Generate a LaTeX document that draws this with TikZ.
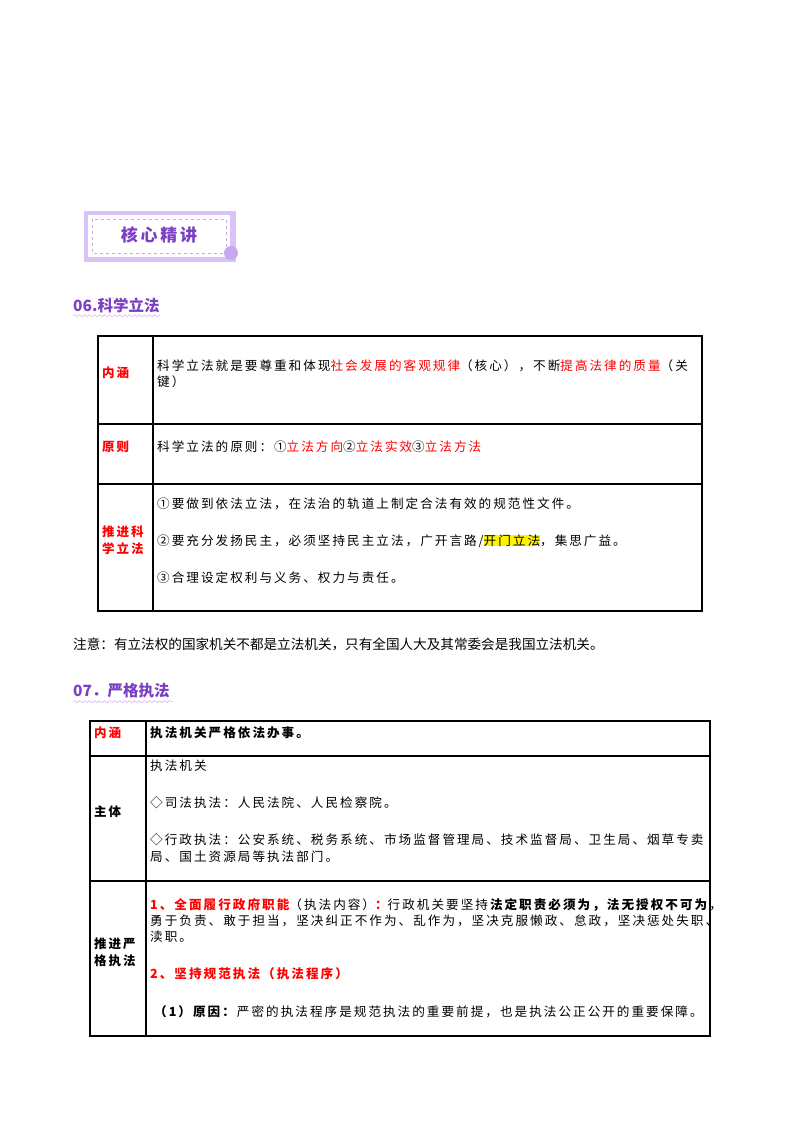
\documentclass[tikz,border=0pt]{standalone}
\usepackage{fontspec}
\setmainfont{Noto Sans CJK SC}
\newfontfamily\spaced[LetterSpace=16]{Noto Sans CJK SC}
\usepackage{xcolor}
\usetikzlibrary{positioning, decorations.pathmorphing}
\definecolor{headpurple}{HTML}{7A3FC4}
\definecolor{lightpurple}{HTML}{C9A8F0}
\tikzset{
	cell/.style={anchor=west, inner sep=0pt, font=\spaced\fontsize{12.6}{14}\selectfont},
	label/.style={anchor=west, inner sep=0pt, font=\spaced\fontsize{12.5}{17}\selectfont\bfseries, align=left},
	heading/.style={anchor=west, inner sep=0pt, font=\fontsize{15.5}{17}\selectfont\bfseries, text=headpurple},
	grid/.style={line width=1.3pt}
}
\newcommand{\hl}[1]{\textcolor{red}{#1}}
\begin{document}
\begin{tikzpicture}[x=1pt, y=-1pt]
	\useasboundingbox (0,0) rectangle (800,1132);
	% badge
	\fill [lightpurple!70] (84,211) rectangle (236,262);
	\fill [white] (88,215) rectangle (230,257);
	\draw [lightpurple, dashed] (92,219) rectangle (226,253);
	\fill [lightpurple] (231,253) circle (7);
	\node [heading, anchor=center, font=\spaced\fontsize{17}{19}\selectfont\bfseries] (Badge) at (159,235) {核心精讲};
	% section 06
	\node [heading] (Sec06) at (73,305) {06.科学立法};
	\draw [lightpurple, decorate, decoration={snake, amplitude=1pt, segment length=5pt}] (Sec06.south west) ++(0,3) -- ++(87,0);
	\draw [grid] (98,336) rectangle (702,611);
	\draw [grid] (153,336) -- (153,611);
	\draw [grid] (98,424) -- (702,424);
	\draw [grid] (98,484) -- (702,484);
	\node [label, text=red] (Neihan1) at (102,373) {内涵};
	\node [label, text=red] (Yuanze) at (102,447) {原则};
	\node [label, text=red] (Tuijin1) at (102,540) {推进科\\学立法};
	\node [cell] (N1a) at (157,366) {科学立法就是要尊重和体现\hl{社会发展的客观规律}（核心），不断\hl{提高法律的质量}（关};
	\node [cell] (N1b) at (157,382) {键）};
	\node [cell] (Y1) at (157,447) {科学立法的原则：①\hl{立法方向}②\hl{立法实效}③\hl{立法方法}};
	\node [cell] (T1) at (157,504) {①要做到依法立法，在法治的轨道上制定合法有效的规范性文件。};
	\node [cell] (T2) at (157,541) {②要充分发扬民主，必须坚持民主立法，广开言路/{\setlength{\fboxsep}{0pt}\colorbox{yellow}{开门立法}}，集思广益。};
	\node [cell] (T3) at (157,578) {③合理设定权利与义务、权力与责任。};
	\node [cell, font=\fontsize{13.6}{15}\selectfont] (Note) at (73,644) {注意：有立法权的国家机关不都是立法机关，只有全国人大及其常委会是我国立法机关。};
	% section 07
	\node [heading] (Sec07) at (73,691) {07．严格执法};
	\draw [lightpurple, decorate, decoration={snake, amplitude=1pt, segment length=5pt}] (Sec07.south west) ++(0,3) -- ++(100,0);
	\draw [grid] (90,721) rectangle (710,1036);
	\draw [grid] (146,721) -- (146,1036);
	\draw [grid] (90,756) -- (710,756);
	\draw [grid] (90,881) -- (710,881);
	\node [label, text=red] (Neihan2) at (94,733) {内涵};
	\node [label] (Zhuti) at (94,812) {主体};
	\node [label] (Tuijin2) at (94,952) {推进严\\格执法};
	\node [cell, font=\spaced\fontsize{12.6}{14}\selectfont\bfseries] (Z0) at (150,733) {执法机关严格依法办事。};
	\node [cell] (Z1) at (150,766) {执法机关};
	\node [cell] (Z2) at (150,803) {◇司法执法：人民法院、人民检察院。};
	\node [cell] (Z3) at (150,840) {◇行政执法：公安系统、税务系统、市场监督管理局、技术监督局、卫生局、烟草专卖};
	\node [cell] (Z4) at (150,857) {局、国土资源局等执法部门。};
	\node [cell] (P1) at (150,905) {\hl{\bfseries 1、全面履行政府职能}（执法内容）\hl{\bfseries ：}行政机关要坚持\textbf{法定职责必须为，法无授权不可为}，};
	\node [cell] (P2) at (150,921) {勇于负责、敢于担当，坚决纠正不作为、乱作为，坚决克服懒政、怠政，坚决惩处失职、};
	\node [cell] (P3) at (150,937) {渎职。};
	\node [cell, font=\spaced\fontsize{12.6}{14}\selectfont\bfseries, text=red] (P4) at (150,974) {2、坚持规范执法（执法程序）};
	\node [cell] (P5) at (154,1012) {\textbf{（1）原因：}严密的执法程序是规范执法的重要前提，也是执法公正公开的重要保障。};
\end{tikzpicture}
\end{document}
